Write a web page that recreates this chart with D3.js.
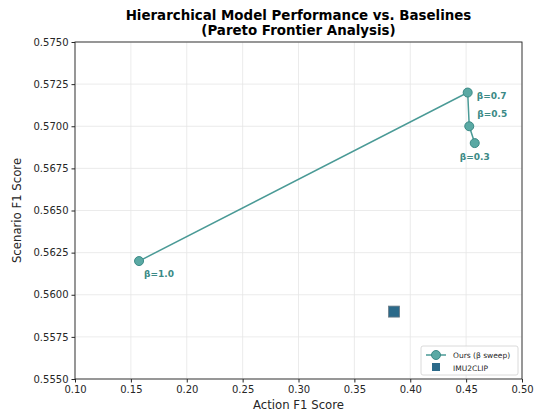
<!DOCTYPE html>
<html><head><meta charset="utf-8">
<script src="https://cdn.jsdelivr.net/npm/d3@7"></script>
<style>body{margin:0;background:#fff;} svg{display:block;font-family:"DejaVu Sans",sans-serif;}</style>
</head><body>
<svg id="c" width="542" height="413"></svg>
<script>
const betaLabels = ["β=1.0","β=0.7","β=0.5","β=0.3"];
const oursAction = [0.1573, 0.4514, 0.4528, 0.4577];
const oursScenario = [0.5620, 0.5720, 0.5700, 0.5690];
const baselineName = ["IMU2CLIP"];
const baselineAction = [0.3855];
const baselineScenario = [0.5590];
const xTicks = [0.10,0.15,0.20,0.25,0.30,0.35,0.40,0.45,0.50];
const yTicks = [0.5550,0.5575,0.5600,0.5625,0.5650,0.5675,0.5700,0.5725,0.5750];

const svg = d3.select("#c");
const L=75,R=522,T=42,B=379;
const x = d3.scaleLinear().domain([0.10,0.50]).range([L,R]);
const y = d3.scaleLinear().domain([0.5550,0.5750]).range([B,T]);
const teal="#4a9a96", tealDark="#3b8a86";

// grid
svg.append("g").selectAll("line").data(xTicks).join("line")
 .attr("x1",d=>x(d)).attr("x2",d=>x(d)).attr("y1",T).attr("y2",B)
 .attr("stroke","#e6e6e6").attr("stroke-width",0.8);
svg.append("g").selectAll("line").data(yTicks).join("line")
 .attr("y1",d=>y(d)).attr("y2",d=>y(d)).attr("x1",L).attr("x2",R)
 .attr("stroke","#e6e6e6").attr("stroke-width",0.8);

// axes
const xa = svg.append("g").attr("transform",`translate(0,${B})`)
 .call(d3.axisBottom(x).tickValues(xTicks).tickFormat(d3.format(".2f")).tickSizeOuter(0).tickSize(3.5).tickPadding(3));
const ya = svg.append("g").attr("transform",`translate(${L},0)`)
 .call(d3.axisLeft(y).tickValues(yTicks).tickFormat(d3.format(".4f")).tickSizeOuter(0).tickSize(3.5).tickPadding(3));
[xa,ya].forEach(a=>{a.selectAll("text").attr("font-size",10).attr("fill","#262626").attr("font-family","DejaVu Sans");
 a.selectAll("line").attr("stroke","#262626"); a.select(".domain").remove();});
svg.append("rect").attr("x",L).attr("y",T).attr("width",R-L).attr("height",B-T)
 .attr("fill","none").attr("stroke","#262626").attr("stroke-width",0.9);

// line
const pts = oursAction.map((a,i)=>({a, s:oursScenario[i], lab:betaLabels[i]}));
svg.append("path").datum(pts)
 .attr("d",d3.line().x(d=>x(d.a)).y(d=>y(d.s)))
 .attr("fill","none").attr("stroke",teal).attr("stroke-width",1.5);
svg.append("g").selectAll("circle").data(pts).join("circle")
 .attr("cx",d=>x(d.a)).attr("cy",d=>y(d.s)).attr("r",4.5)
 .attr("fill","#5aa9a4").attr("stroke",tealDark).attr("stroke-width",1);

// labels
const offs = [[5,16,"start"],[9,6,"start"],[8,-9,"start"],[0,17,"middle"]];
svg.append("g").selectAll("text").data(pts).join("text")
 .attr("x",(d,i)=>x(d.a)+offs[i][0]).attr("y",(d,i)=>y(d.s)+offs[i][1])
 .attr("text-anchor",(d,i)=>offs[i][2])
 .attr("font-size",9).attr("font-weight","bold").attr("fill",tealDark).text(d=>d.lab);

// baseline
svg.append("g").selectAll("rect").data(baselineAction).join("rect")
 .attr("x",(d)=>x(d)-5.5).attr("y",(d,i)=>y(baselineScenario[i])-5.5)
 .attr("width",11).attr("height",11)
 .attr("fill","#2b6a8a").attr("stroke","#6b7b85").attr("stroke-width",0.8);

// titles
svg.append("text").attr("x",(L+R)/2).attr("y",20).attr("text-anchor","middle")
 .attr("font-size",13.4).attr("font-weight","bold").attr("fill","#000").text("Hierarchical Model Performance vs. Baselines");
svg.append("text").attr("x",(L+R)/2).attr("y",35).attr("text-anchor","middle")
 .attr("font-size",13.4).attr("font-weight","bold").attr("fill","#000").text("(Pareto Frontier Analysis)");
svg.append("text").attr("x",(L+R)/2).attr("y",409).attr("text-anchor","middle")
 .attr("font-size",11.7).attr("fill","#262626").text("Action F1 Score");
svg.append("text").attr("transform",`translate(21,${(T+B)/2}) rotate(-90)`).attr("text-anchor","middle")
 .attr("font-size",11.7).attr("fill","#262626").text("Scenario F1 Score");

// legend
const lg = svg.append("g").attr("transform","translate(421,346)");
lg.append("rect").attr("width",97).attr("height",29).attr("rx",2)
 .attr("fill","#fff").attr("fill-opacity",0.8).attr("stroke","#d0d0d0").attr("stroke-width",0.8);
lg.append("line").attr("x1",5).attr("x2",25).attr("y1",9).attr("y2",9).attr("stroke",teal).attr("stroke-width",1.5);
lg.append("circle").attr("cx",15).attr("cy",9).attr("r",4.5).attr("fill","#5aa9a4").attr("stroke",tealDark);
lg.append("text").attr("x",32).attr("y",12).attr("font-size",7.5).attr("fill","#262626").text("Ours (β sweep)");
lg.append("rect").attr("x",11).attr("y",17).attr("width",8).attr("height",8).attr("fill","#2b6a8a");
lg.append("text").attr("x",32).attr("y",24.5).attr("font-size",7.5).attr("fill","#262626").text(baselineName[0]);
</script>
</body></html>
